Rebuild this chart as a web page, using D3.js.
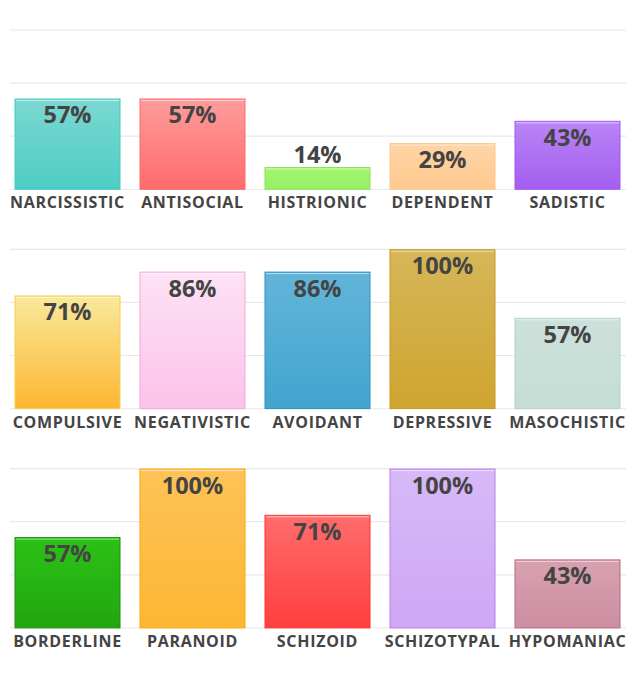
<!DOCTYPE html>
<html>
<head>
<meta charset="utf-8">
<script src="https://cdn.jsdelivr.net/npm/d3@7"></script>
<style>
  body { margin: 0; background: #fff; }
  text { font-family: "Open Sans", sans-serif; font-weight: bold; fill: #444; }
</style>
</head>
<body>
<svg id="chart"></svg>
<script>
// one row of five bars per panel
var categories = [
  ["NARCISSISTIC", "ANTISOCIAL", "HISTRIONIC", "DEPENDENT", "SADISTIC"],
  ["COMPULSIVE", "NEGATIVISTIC", "AVOIDANT", "DEPRESSIVE", "MASOCHISTIC"],
  ["BORDERLINE", "PARANOID", "SCHIZOID", "SCHIZOTYPAL", "HYPOMANIAC"]
];
var values = [
  [57, 57, 14, 29, 43],
  [71, 86, 86, 100, 57],
  [57, 100, 71, 100, 43]
];
var gridTicks = [0, 100 / 3, 200 / 3, 100];

// [top, bottom, stroke]
var colors = [
  [["#7ad8d1", "#4ecdc4", "#45cbc1"], ["#ff9c9c", "#ff6b6b", "#ff6b6b"], ["#a2f76e", "#98ee64", "#8ae558"], ["#ffd5a6", "#ffc98e", "#ffc68a"], ["#b985f6", "#a45ef0", "#a259f0"]],
  [["#f9e99c", "#fdb630", "#f6cf4a"], ["#fde2f5", "#fbc3e9", "#f7a6db"], ["#63b5d9", "#42a4ce", "#2a92c3"], ["#d6b658", "#cfa530", "#c69a20"], ["#cbe1d9", "#c6ddd5", "#b6d2c8"]],
  [["#2cc216", "#22a60f", "#1d8d0c"], ["#fec257", "#fdb733", "#fda800"], ["#ff6c6c", "#ff3e3e", "#ff3535"], ["#d7b9f7", "#cfa7f5", "#b87fee"], ["#d7a1b0", "#cd8ea1", "#b66a85"]]
];

var width = 635, height = 690;
var panelTop = 30, panelHeight = 159.3, panelStep = 219.3;

var svg = d3.select("#chart")
  .attr("width", width)
  .attr("height", height);

var defs = svg.append("defs");
defs.append("clipPath").attr("id", "clip")
  .append("rect").attr("x", 0).attr("y", 0).attr("width", 627).attr("height", height);

var x = d3.scaleBand()
  .domain(d3.range(5))
  .range([5, 630])
  .paddingInner(0.152)
  .paddingOuter(0.076);

var y = d3.scaleLinear().domain([0, 100]).range([panelHeight, 0]);

categories.forEach(function(cats, p) {
  var g = svg.append("g")
    .attr("clip-path", "url(#clip)")
    .append("g")
    .attr("transform", "translate(0," + (panelTop + p * panelStep) + ")");

  g.selectAll("line.grid")
    .data(gridTicks)
    .enter()
    .append("line")
    .attr("class", "grid")
    .attr("x1", 10)
    .attr("x2", 626)
    .attr("y1", function(d) { return y(d); })
    .attr("y2", function(d) { return y(d); })
    .attr("stroke", function(d) { return d === 0 ? "#ededed" : "#e8e8e8"; })
    .attr("stroke-width", 1.2);

  var data = cats.map(function(c, i) { return { name: c, value: values[p][i], col: colors[p][i], i: i }; });

  data.forEach(function(d) {
    var grad = defs.append("linearGradient")
      .attr("id", "grad" + p + "_" + d.i)
      .attr("x1", 0).attr("y1", 0).attr("x2", 0).attr("y2", 1);
    grad.append("stop").attr("offset", "0%").attr("stop-color", d.col[0]);
    grad.append("stop").attr("offset", "100%").attr("stop-color", d.col[1]);
  });

  var bars = g.selectAll("g.bar")
    .data(data)
    .enter()
    .append("g")
    .attr("class", "bar");

  bars.append("rect")
    .attr("x", function(d) { return x(d.i) + 0.5; })
    .attr("y", function(d) { return y(d.value) + 0.5; })
    .attr("width", x.bandwidth() - 1)
    .attr("height", function(d) { return panelHeight - y(d.value) - 0.5; })
    .attr("fill", function(d) { return "url(#grad" + p + "_" + d.i + ")"; })
    .attr("stroke", function(d) { return d.col[2]; })
    .attr("stroke-width", 1);

  // light highlight just under the top edge
  bars.append("line")
    .attr("x1", function(d) { return x(d.i) + 1.5; })
    .attr("x2", function(d) { return x(d.i) + x.bandwidth() - 1.5; })
    .attr("y1", function(d) { return y(d.value) + 2; })
    .attr("y2", function(d) { return y(d.value) + 2; })
    .attr("stroke", "#fff")
    .attr("stroke-opacity", 0.55)
    .attr("stroke-width", 1);

  bars.append("text")
    .attr("x", function(d) { return x(d.i) + x.bandwidth() / 2; })
    .attr("y", function(d) {
      var top = y(d.value);
      return (panelHeight - top) < 30 ? top - 4 : top + 25;
    })
    .attr("text-anchor", "middle")
    .style("font-size", "23.5px")
    .text(function(d) { return d.value + "%"; });

  bars.append("text")
    .attr("x", function(d) { return x(d.i) + x.bandwidth() / 2; })
    .attr("y", panelHeight + 19)
    .attr("text-anchor", "middle")
    .style("font-size", "16px")
    .style("letter-spacing", "0.7px")
    .text(function(d) { return d.name; });
});
</script>
</body>
</html>
